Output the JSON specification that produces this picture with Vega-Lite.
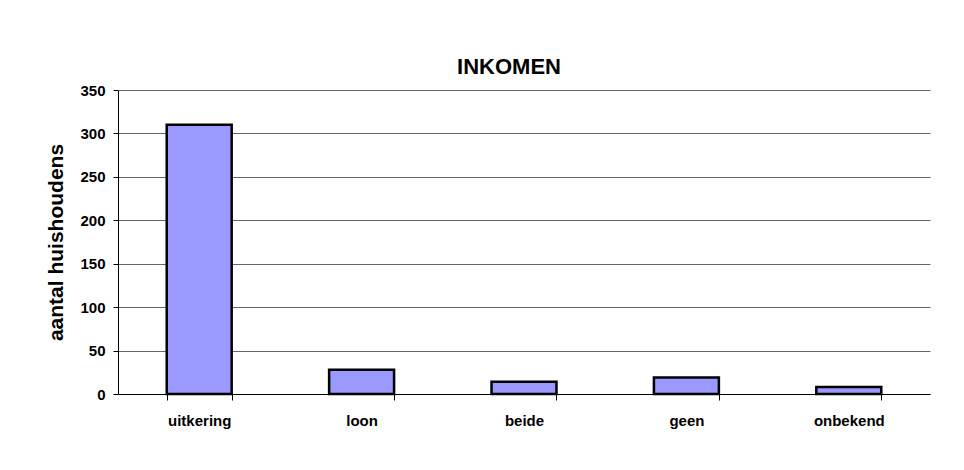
{
  "$schema": "https://vega.github.io/schema/vega-lite/v6.json",
  "autosize": {"type": "none"},
  "width": 812,
  "height": 304,
  "padding": {"left": 118, "top": 90, "right": 34, "bottom": 76},
  "background": "white",
  "title": {
    "text": "INKOMEN",
    "font": "Liberation Sans",
    "fontSize": 22,
    "fontWeight": "bold",
    "color": "black",
    "frame": "group",
    "anchor": "middle",
    "baseline": "alphabetic",
    "offset": -13,
    "dx": -15
  },
  "data": {
    "values": [
      {"categorie": "uitkering", "aantal": 310},
      {"categorie": "loon", "aantal": 28},
      {"categorie": "beide", "aantal": 14},
      {"categorie": "geen", "aantal": 19},
      {"categorie": "onbekend", "aantal": 8}
    ]
  },
  "mark": {"type": "bar", "fill": "#9999FF", "stroke": "black", "strokeWidth": 2.5},
  "encoding": {
    "x": {
      "field": "categorie",
      "type": "nominal",
      "sort": null,
      "scale": {"paddingInner": 0.6, "paddingOuter": 0.3},
      "axis": {
        "title": null,
        "labelAngle": 0,
        "labelFont": "Liberation Sans",
        "labelFontSize": 15,
        "labelFontWeight": "bold",
        "labelColor": "black",
        "labelPadding": 13,
        "tickBand": "extent",
        "tickSize": 6,
        "tickColor": "black",
        "domainColor": "black",
        "grid": false
      }
    },
    "y": {
      "field": "aantal",
      "type": "quantitative",
      "scale": {"domain": [0, 350], "nice": false},
      "axis": {
        "title": "aantal huishoudens",
        "titleFont": "Liberation Sans",
        "titleFontSize": 21,
        "titleFontWeight": "bold",
        "titleColor": "black",
        "titlePadding": 13,
        "values": [0, 50, 100, 150, 200, 250, 300, 350],
        "labelFont": "Liberation Sans",
        "labelFontSize": 15,
        "labelFontWeight": "bold",
        "labelColor": "black",
        "labelPadding": 8,
        "tickSize": 5,
        "tickColor": "black",
        "domainColor": "black",
        "grid": true,
        "gridColor": "#666666",
        "gridOpacity": 1,
        "gridWidth": 1
      }
    }
  },
  "config": {
    "view": {"stroke": null}
  }
}
